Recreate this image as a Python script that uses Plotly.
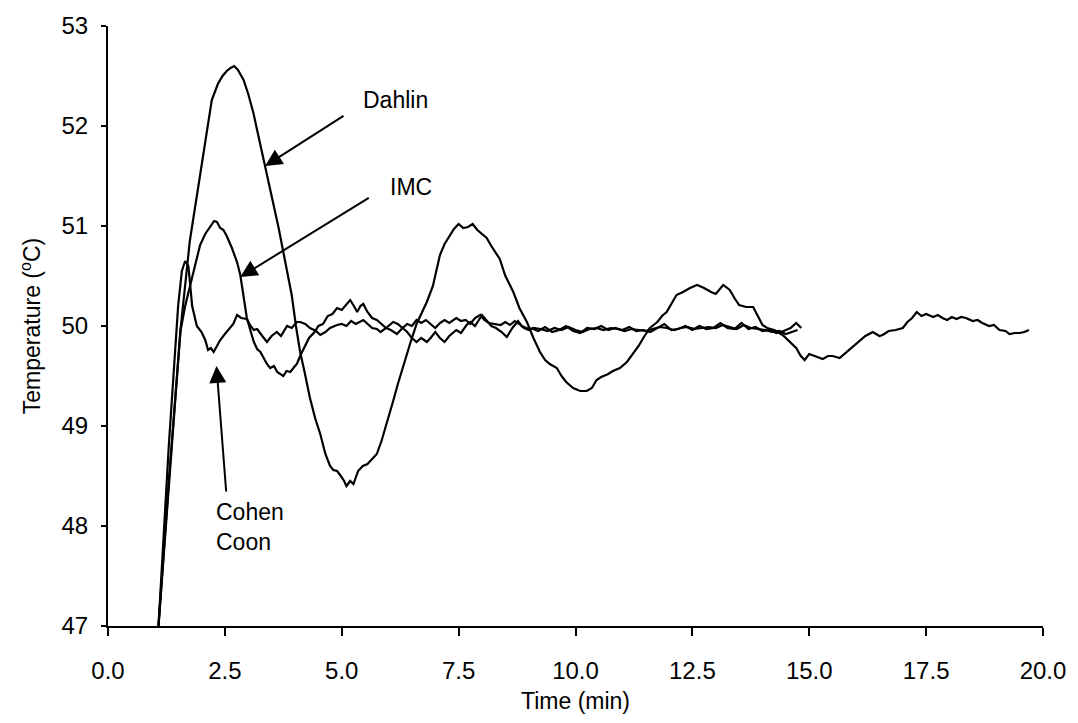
import plotly.graph_objects as go

# ---------------- data ----------------
dahlin_t = [1.08, 1.3, 1.55, 1.75, 1.97, 2.1, 2.22, 2.35, 2.45, 2.54, 2.62, 2.7, 2.78, 2.9, 3.0,
            3.11, 3.22, 3.33, 3.44, 3.54, 3.65, 3.75, 3.85, 3.93, 4.02, 4.11, 4.2, 4.32, 4.43,
            4.54, 4.65, 4.75, 4.82, 4.9, 4.98, 5.05, 5.1, 5.18, 5.25, 5.35, 5.45, 5.55, 5.65,
            5.75, 5.85, 5.95, 6.1, 6.2, 6.3, 6.46, 6.6, 6.7, 6.82, 6.95, 7.1, 7.2, 7.3, 7.4,
            7.5, 7.6, 7.7, 7.8, 7.9, 8.0, 8.1, 8.2, 8.3, 8.38, 8.5, 8.67, 8.8, 8.96, 9.1, 9.24,
            9.35, 9.45, 9.6, 9.7, 9.8, 9.95, 10.1, 10.24, 10.35, 10.45, 10.55, 10.7, 10.8,
            10.95, 11.1, 11.23, 11.35, 11.45, 11.59, 11.75, 11.85, 11.95, 12.05, 12.16, 12.3,
            12.45, 12.6, 12.75, 12.9, 13.0, 13.16, 13.3, 13.4, 13.5, 13.65, 13.8, 13.9, 14.0,
            14.1, 14.25, 14.43, 14.55, 14.72, 14.82, 14.9, 15.0, 15.15, 15.29, 15.4, 15.5,
            15.65, 15.8, 15.95, 16.08, 16.2, 16.36, 16.5, 16.57, 16.7, 16.85, 17.0, 17.1, 17.2,
            17.3, 17.4, 17.5, 17.65, 17.75, 17.85, 17.95, 18.05, 18.15, 18.25, 18.35, 18.5,
            18.6, 18.7, 18.85, 18.95, 19.07, 19.2, 19.28, 19.4, 19.5, 19.6, 19.7]
dahlin_T = [47.0, 48.4, 49.96, 50.85, 51.5, 51.9, 52.26, 52.42, 52.5, 52.55, 52.58, 52.6, 52.56,
            52.46, 52.32, 52.13, 51.9, 51.67, 51.45, 51.24, 50.98, 50.74, 50.5, 50.31, 50.0,
            49.74, 49.55, 49.28, 49.08, 48.92, 48.72, 48.6, 48.56, 48.55, 48.5, 48.45, 48.4,
            48.45, 48.42, 48.55, 48.6, 48.62, 48.67, 48.72, 48.85, 49.0, 49.25, 49.42, 49.58,
            49.82, 50.02, 50.12, 50.24, 50.4, 50.71, 50.82, 50.9, 50.97, 51.02, 50.98, 50.99,
            51.02, 50.96, 50.92, 50.88, 50.8, 50.72, 50.67, 50.5, 50.34, 50.18, 50.04, 49.88,
            49.74, 49.66, 49.62, 49.58, 49.5, 49.44, 49.38, 49.35, 49.35, 49.38, 49.46, 49.49,
            49.52, 49.55, 49.58, 49.64, 49.72, 49.8, 49.88, 49.98, 50.04, 50.1, 50.14, 50.22,
            50.31, 50.34, 50.38, 50.41, 50.38, 50.34, 50.32, 50.41, 50.36, 50.28, 50.21, 50.19,
            50.19, 50.1, 50.01, 49.98, 49.96, 49.91, 49.86, 49.78, 49.7, 49.66, 49.72, 49.69,
            49.67, 49.7, 49.7, 49.68, 49.74, 49.8, 49.85, 49.9, 49.94, 49.9, 49.91, 49.95, 49.96,
            49.98, 50.04, 50.08, 50.14, 50.1, 50.12, 50.09, 50.11, 50.08, 50.06, 50.09, 50.07,
            50.09, 50.08, 50.05, 50.06, 50.03, 50.0, 50.01, 49.96, 49.95, 49.92, 49.93, 49.93,
            49.94, 49.96]

imc_t = [1.08, 1.3, 1.55, 1.65, 1.76, 1.87, 1.97, 2.08, 2.19, 2.27, 2.33, 2.4, 2.47, 2.54, 2.65,
         2.76, 2.83, 2.9, 2.97, 3.05, 3.12, 3.19, 3.26, 3.33, 3.4, 3.47, 3.55, 3.62, 3.68, 3.75,
         3.82, 3.9, 4.0, 4.04, 4.12, 4.2, 4.3, 4.42, 4.5, 4.6, 4.7, 4.8, 4.9, 5.0, 5.1, 5.18,
         5.26, 5.33, 5.4, 5.46, 5.55, 5.65, 5.75, 5.85, 5.95, 6.05, 6.18, 6.3, 6.4, 6.5, 6.6,
         6.7, 6.82, 6.9, 7.0, 7.1, 7.2, 7.3, 7.45, 7.55, 7.67, 7.75, 7.85, 8.0, 8.1, 8.2, 8.3,
         8.42, 8.53, 8.65, 8.77, 8.85, 8.95, 9.1, 9.2, 9.35, 9.5, 9.65, 9.8, 9.95, 10.1, 10.25,
         10.4, 10.55, 10.7, 10.85, 11.0, 11.15, 11.3, 11.45, 11.6, 11.75, 11.9, 12.05, 12.2,
         12.35, 12.5, 12.65, 12.8, 12.95, 13.1, 13.25, 13.4, 13.55, 13.7, 13.85, 14.0, 14.15,
         14.3, 14.45, 14.6, 14.72, 14.83]
imc_T = [47.0, 48.45, 49.95, 50.2, 50.41, 50.62, 50.81, 50.92, 51.0, 51.05, 51.04, 50.98, 50.96,
         50.9, 50.78, 50.64, 50.51, 50.31, 50.08, 49.95, 49.84, 49.77, 49.74, 49.68, 49.62,
         49.58, 49.6, 49.54, 49.52, 49.5, 49.55, 49.54, 49.6, 49.62, 49.71, 49.78, 49.88, 49.94,
         50.0, 50.02, 50.1, 50.12, 50.18, 50.16, 50.22, 50.26, 50.2, 50.14, 50.2, 50.22, 50.14,
         50.08, 50.06, 50.02, 49.98, 49.96, 49.92, 49.98, 49.94, 49.88, 49.84, 49.88, 49.84,
         49.88, 49.94, 49.88, 49.84, 49.9, 49.96, 49.93, 50.01, 50.04, 50.0, 50.11, 50.06, 50.0,
         49.98, 49.94, 49.89, 49.98, 50.05, 50.0, 49.98, 49.97, 49.95, 49.99, 49.94, 49.96,
         50.0, 49.95, 49.93, 49.98, 49.97, 50.0, 49.96, 49.98, 49.96, 49.99, 49.95, 49.96,
         49.94, 49.98, 50.02, 49.96, 49.97, 50.0, 49.96, 50.0, 49.97, 49.98, 50.03, 49.98,
         49.97, 50.03, 49.97, 49.99, 49.95, 49.96, 49.93, 49.95, 49.98, 50.03, 49.98]

cc_t = [1.08, 1.3, 1.5, 1.58, 1.65, 1.72, 1.8, 1.9, 2.0, 2.08, 2.14, 2.2, 2.26, 2.33, 2.4, 2.5,
        2.61, 2.68, 2.76, 2.85, 2.97, 3.05, 3.12, 3.19, 3.3, 3.4, 3.5, 3.61, 3.7, 3.83, 3.93,
        4.04, 4.11, 4.22, 4.32, 4.45, 4.54, 4.65, 4.75, 4.9, 5.0, 5.1, 5.2, 5.3, 5.46, 5.55,
        5.65, 5.75, 5.83, 5.95, 6.05, 6.1, 6.2, 6.3, 6.4, 6.5, 6.6, 6.7, 6.8, 6.9, 7.0, 7.1,
        7.2, 7.3, 7.45, 7.55, 7.65, 7.75, 7.85, 7.96, 8.05, 8.15, 8.25, 8.4, 8.5, 8.6, 8.7,
        8.8, 8.9, 9.0, 9.1, 9.25, 9.4, 9.55, 9.7, 9.85, 10.0, 10.15, 10.3, 10.45, 10.6, 10.75,
        10.9, 11.05, 11.2, 11.35, 11.5, 11.65, 11.8, 11.95, 12.1, 12.25, 12.4, 12.55, 12.7,
        12.85, 13.0, 13.15, 13.3, 13.45, 13.6, 13.75, 13.9, 14.05, 14.2, 14.35, 14.5, 14.65,
        14.75]
cc_T = [47.0, 48.8, 50.2, 50.55, 50.65, 50.6, 50.2, 50.0, 49.94, 49.86, 49.76, 49.78, 49.74,
        49.8, 49.86, 49.92, 49.98, 50.02, 50.11, 50.08, 50.07, 50.0, 49.96, 49.97, 49.9, 49.84,
        49.9, 49.94, 49.9, 50.0, 49.98, 50.04, 50.04, 50.02, 49.98, 49.95, 49.91, 49.94, 49.98,
        50.01, 50.02, 50.0, 50.05, 50.02, 50.06, 50.02, 49.98, 49.97, 49.94, 49.98, 50.02,
        50.04, 50.02, 49.98, 50.02, 50.0, 50.06, 50.03, 50.06, 50.02, 49.98, 50.03, 50.06,
        50.03, 50.08, 50.05, 50.06, 50.02, 50.08, 50.11, 50.06, 50.03, 50.02, 50.01, 50.04,
        50.01, 50.05, 50.02, 49.98, 49.96, 49.98, 49.97, 49.95, 49.98, 49.96, 49.99, 49.96,
        49.94, 49.97, 49.98, 49.96, 49.98, 49.97, 49.95, 49.97, 49.96, 49.95, 49.97, 49.99,
        49.98, 49.96, 49.98, 49.99, 49.97, 49.98, 49.99, 49.98, 50.01, 49.99, 49.97, 50.01,
        49.98, 49.97, 49.96, 49.94, 49.95, 49.92, 49.94, 49.96]

x_ticks = [0, 2.5, 5, 7.5, 10, 12.5, 15, 17.5, 20]
x_tick_labels = ["0.0", "2.5", "5.0", "7.5", "10.0", "12.5", "15.0", "17.5", "20.0"]
y_ticks = [47, 48, 49, 50, 51, 52, 53]

# label annotations: (text, x, y, xanchor)
labels = [("Dahlin", 6.16, 52.26, "center"),
          ("IMC", 6.48, 51.39, "center"),
          ("Cohen<br>Coon", 2.27, 47.99, "left")]
# arrows: (tail_x, tail_y, tip_x, tip_y)
arrows = [(5.07, 52.11, 3.36, 51.6),
          (5.61, 51.29, 2.83, 50.49),
          (2.53, 48.33, 2.32, 49.6)]

FONT = "Liberation Sans, Arial, sans-serif"

fig = go.Figure()
for name, t, T in [("Dahlin", dahlin_t, dahlin_T), ("IMC", imc_t, imc_T),
                   ("Cohen Coon", cc_t, cc_T)]:
    fig.add_trace(go.Scatter(x=t, y=T, mode="lines", name=name,
                             line=dict(color="black", width=2.2), showlegend=False))

for text, x, y, xa in labels:
    fig.add_annotation(x=x, y=y, xref="x", yref="y", text=text, showarrow=False,
                       xanchor=xa, yanchor="middle", align="left",
                       font=dict(family=FONT, size=23, color="black"))
for tx, ty, hx, hy in arrows:
    fig.add_annotation(x=hx, y=hy, ax=tx, ay=ty, xref="x", yref="y", axref="x", ayref="y",
                       text="", showarrow=True, arrowhead=2, arrowsize=1.7,
                       arrowwidth=2, arrowcolor="black")

fig.update_layout(
    width=1078, height=723,
    margin=dict(l=108, r=33, t=23, b=97),
    paper_bgcolor="white", plot_bgcolor="white",
    font=dict(family=FONT, size=24, color="black"),
)
fig.update_xaxes(range=[0, 20], tickmode="array", tickvals=x_ticks, ticktext=x_tick_labels,
                 showgrid=False, zeroline=False, showline=True, linecolor="black",
                 linewidth=2, ticks="outside", ticklen=8, tickwidth=2, tickcolor="black",
                 ticklabelstandoff=14, tickfont=dict(size=24),
                 title=dict(text="Time (min)", font=dict(size=23), standoff=10))
fig.update_yaxes(range=[47, 53], tickmode="array", tickvals=y_ticks,
                 showgrid=False, zeroline=False, showline=True, linecolor="black",
                 linewidth=2, ticks="outside", ticklen=5, tickwidth=2, tickcolor="black",
                 ticklabelstandoff=8, tickfont=dict(size=24),
                 title=dict(text="Temperature (<sup>o</sup>C)", font=dict(size=23), standoff=14))

fig.write_html("out.html")
